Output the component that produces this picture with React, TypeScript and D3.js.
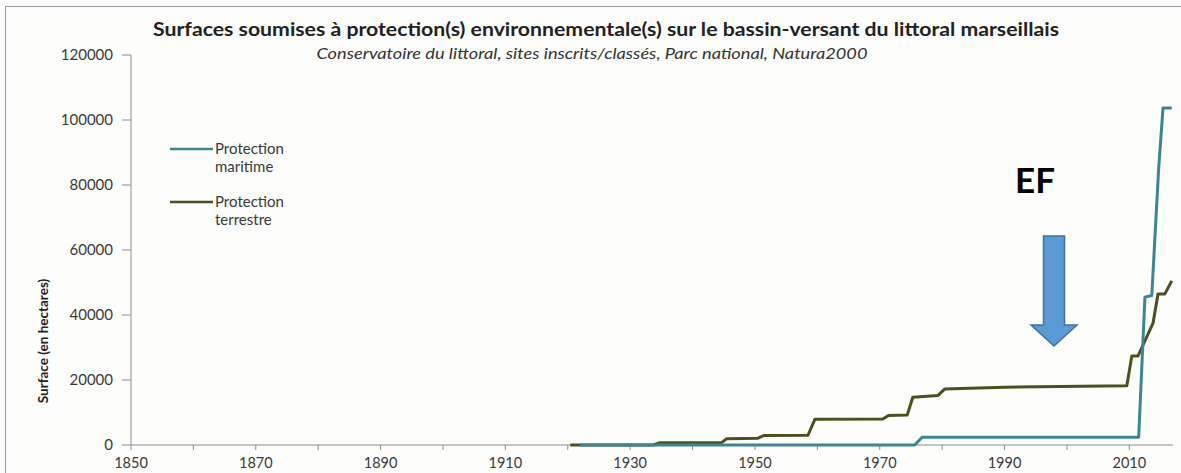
import React from "react";
import * as d3 from "d3";

const TITLE = "Surfaces soumises à protection(s) environnementale(s) sur le bassin-versant du littoral marseillais";
const SUBTITLE = "Conservatoire du littoral, sites inscrits/classés, Parc national, Natura2000";
const Y_LABEL = "Surface (en hectares)";
const ANNOTATION = "EF";

const seriesNames = ["Protection maritime", "Protection terrestre"];
const seriesColors = ["#3e8590", "#4d4f1e"];

const maritimeYears = [1922, 1975.6, 1976.8, 2011.5, 2012.5, 2013.6, 2014.7, 2015.4, 2016.8];
const maritimeValues = [0, 0, 2400, 2400, 45500, 46000, 85000, 103700, 103700];

const terrestreYears = [1920.4, 1933.7, 1934.8, 1944.7, 1945.5, 1950.5, 1951.4, 1958.5, 1959.6, 1970.5, 1971.4, 1974.4, 1975.3, 1979.3, 1980.4, 1990, 2009.6, 2010.4, 2011.4, 2013.8, 2014.6, 2015.7, 2016.8];
const terrestreValues = [0, 0, 700, 800, 1950, 2100, 2900, 3000, 7900, 8000, 9100, 9200, 14700, 15200, 17200, 17800, 18200, 27400, 27400, 37500, 46500, 46500, 50500];

const yTicks = [0, 20000, 40000, 60000, 80000, 100000, 120000];
const xLabelYears = [1850, 1870, 1890, 1910, 1930, 1950, 1970, 1990, 2010];
const xMinorYears = [1850, 1860, 1870, 1880, 1890, 1900, 1910, 1920, 1930, 1940, 1950, 1960, 1970, 1980, 1990, 2000, 2010];

const W = 1181;
const H = 473;
const FONT = "Lato, 'Open Sans', sans-serif";

export default function App() {
  const x = d3.scaleLinear().domain([1850, 2017]).range([131, 1173]);
  const y = d3.scaleLinear().domain([0, 120000]).range([445, 55]);

  const line = d3
    .line<[number, number]>()
    .x((d) => x(d[0]))
    .y((d) => y(d[1]));

  const maritime: [number, number][] = maritimeYears.map((yr, i) => [yr, maritimeValues[i]]);
  const terrestre: [number, number][] = terrestreYears.map((yr, i) => [yr, terrestreValues[i]]);

  const axisColor = "#8c8c8c";
  const textColor = "#3a3a3a";

  const ax = 1054;
  const arrowPath = `M${ax - 10.5},236 L${ax + 10.5},236 L${ax + 10.5},325 L${ax + 23},325 L${ax},346 L${ax - 23},325 L${ax - 10.5},325 Z`;

  return (
    <svg width={W} height={H} style={{ position: "absolute", left: 0, top: 0, background: "#ffffff" }} fontFamily={FONT}>
      <rect x={5.5} y={6.5} width={1200} height={500} fill="#fdfdfb" stroke="#9a9a9a" strokeWidth={1} />

      <text
        x={606}
        y={36}
        textAnchor="middle"
        fontWeight="bold"
        fontSize={18.5}
        fill="#222"
        textLength={906}
        lengthAdjust="spacingAndGlyphs"
      >
        {TITLE}
      </text>
      <text
        x={592}
        y={59}
        textAnchor="middle"
        fontStyle="italic"
        fontSize={16}
        fill="#333"
        textLength={551}
        lengthAdjust="spacingAndGlyphs"
      >
        {SUBTITLE}
      </text>

      {/* y axis */}
      <line x1={x(1850)} x2={x(1850)} y1={y(120000)} y2={y(0)} stroke={axisColor} strokeWidth={1} />
      {yTicks.map((t) => (
        <g key={t}>
          <line x1={x(1850) - 9} x2={x(1850)} y1={y(t)} y2={y(t)} stroke={axisColor} />
          <text x={x(1850) - 18} y={y(t)} dy="0.35em" textAnchor="end" fontSize={15} fill={textColor}>
            {t}
          </text>
        </g>
      ))}
      <text
        transform={`translate(43,341) rotate(-90)`}
        textAnchor="middle"
        dy="0.35em"
        fontWeight="bold"
        fontSize={13.5}
        fill="#222"
      >
        {Y_LABEL}
      </text>

      {/* x axis */}
      <line x1={x(1850)} x2={x(2017)} y1={y(0)} y2={y(0)} stroke={axisColor} strokeWidth={1} />
      {xMinorYears.map((t) => (
        <line key={t} x1={x(t)} x2={x(t)} y1={y(0)} y2={y(0) + 5} stroke={axisColor} />
      ))}
      {xLabelYears.map((t) => (
        <text key={t} x={x(t)} y={463} dy="0.35em" textAnchor="middle" fontSize={14.5} fill={textColor}>
          {t}
        </text>
      ))}

      {/* series */}
      <path d={line(terrestre) || ""} fill="none" stroke={seriesColors[1]} strokeWidth={3} strokeLinejoin="round" />
      <path d={line(maritime) || ""} fill="none" stroke={seriesColors[0]} strokeWidth={3} strokeLinejoin="round" />

      {/* legend */}
      {seriesNames.map((name, i) => {
        const ly = 149 + i * 53;
        const parts = name.split(" ");
        return (
          <g key={name}>
            <line x1={170} x2={213} y1={ly} y2={ly} stroke={seriesColors[i]} strokeWidth={2.5} />
            <text x={215} y={ly} dy="0.35em" fontSize={15} fill={textColor}>
              {parts[0]}
            </text>
            <text x={215} y={ly + 18} dy="0.35em" fontSize={15} fill={textColor}>
              {parts[1]}
            </text>
          </g>
        );
      })}

      {/* annotation */}
      <text x={1035} y={193} textAnchor="middle" fontWeight="bold" fontSize={35} fill="#000">
        {ANNOTATION}
      </text>
      <path d={arrowPath} fill="#5b9bd5" stroke="#41719c" strokeWidth={1.5} />
    </svg>
  );
}
